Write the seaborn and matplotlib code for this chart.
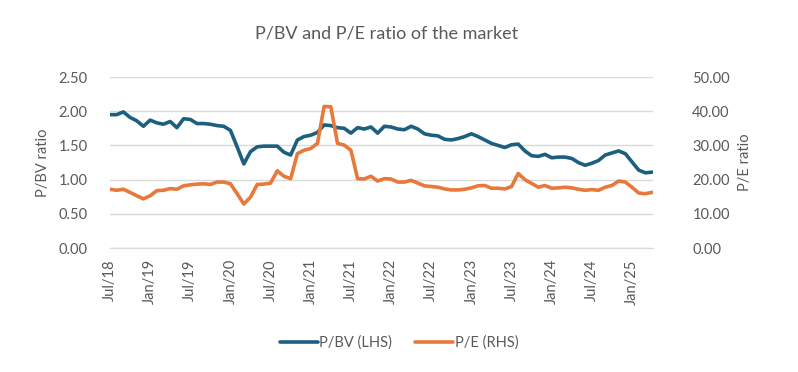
import pandas as pd
import matplotlib.pyplot as plt
import seaborn as sns

# monthly, Jul 2018 - Apr 2025
months = pd.date_range("2018-07-01", periods=82, freq="MS")

pbv = [1.95, 1.95, 1.99, 1.91, 1.86, 1.78, 1.87, 1.83, 1.81, 1.85,
       1.76, 1.89, 1.88, 1.82, 1.82, 1.81, 1.79, 1.78, 1.72, 1.48,
       1.23, 1.41, 1.48, 1.49, 1.49, 1.49, 1.40, 1.36, 1.58, 1.63,
       1.65, 1.69, 1.80, 1.79, 1.76, 1.75, 1.68, 1.76, 1.74, 1.77,
       1.68, 1.78, 1.77, 1.74, 1.73, 1.78, 1.74, 1.67, 1.65, 1.64,
       1.59, 1.58, 1.60, 1.63, 1.67, 1.63, 1.58, 1.53, 1.50, 1.47,
       1.51, 1.52, 1.42, 1.35, 1.34, 1.37, 1.32, 1.33, 1.33, 1.31,
       1.25, 1.21, 1.24, 1.28, 1.36, 1.39, 1.42, 1.38, 1.26, 1.14,
       1.10, 1.11]

pe = [17.2, 16.9, 17.2, 16.3, 15.3, 14.4, 15.3, 16.8, 16.9, 17.4,
      17.2, 18.2, 18.5, 18.7, 18.8, 18.6, 19.3, 19.3, 18.8, 15.9,
      12.9, 14.9, 18.6, 18.7, 19.0, 22.6, 21.0, 20.3, 27.6, 28.6,
      29.1, 30.6, 41.4, 41.3, 30.6, 30.1, 28.6, 20.3, 20.2, 21.0,
      19.6, 20.3, 20.2, 19.3, 19.3, 19.8, 19.0, 18.2, 18.0, 17.8,
      17.3, 17.0, 17.0, 17.2, 17.6, 18.2, 18.3, 17.5, 17.5, 17.3,
      18.0, 21.8, 20.0, 18.9, 17.8, 18.3, 17.5, 17.6, 17.8, 17.6,
      17.2, 16.9, 17.1, 16.9, 17.8, 18.3, 19.6, 19.3, 17.8, 16.1,
      15.9, 16.3]

df = pd.DataFrame({"idx": range(len(months)), "pbv": pbv, "pe": pe})
tick_pos = list(range(0, len(months), 6))
tick_labels = [months[i].strftime("%b/%y") for i in tick_pos]

sns.set_style("white")
plt.rcParams["font.family"] = ["Lato", "DejaVu Sans"]
grey = "#595959"
blue = "#1c5f7f"
orange = "#e8793a"

fig = plt.figure(figsize=(7.98, 3.72), dpi=100)
ax = fig.add_axes([0.1378, 0.333, 0.681, 0.46])
ax2 = ax.twinx()

sns.lineplot(data=df, x="idx", y="pbv", ax=ax, color=blue, linewidth=2.6, label="P/BV (LHS)", legend=False)
sns.lineplot(data=df, x="idx", y="pe", ax=ax2, color=orange, linewidth=2.6, label="P/E (RHS)", legend=False)

ax.set_xlim(0, 81.2)
ax.set_ylim(0, 2.5)
ax2.set_ylim(0, 50)
ax.set_yticks([0, 0.5, 1.0, 1.5, 2.0, 2.5])
ax.set_yticklabels([f"{v:.2f}" for v in ax.get_yticks()])
ax2.set_yticks([0, 10, 20, 30, 40, 50])
ax2.set_yticklabels([f"{v:.2f}" for v in ax2.get_yticks()])
ax.yaxis.grid(True, color="#d9d9d9", linewidth=1)
ax.set_axisbelow(True)

ax.set_xticks(tick_pos)
ax.set_xticklabels(tick_labels, rotation=90)

for a in (ax, ax2):
    for s in ("top", "left", "right"):
        a.spines[s].set_visible(False)
    a.spines["bottom"].set_color("#d9d9d9")
    a.tick_params(axis="y", length=0, colors=grey, labelsize=10.5)
ax.tick_params(axis="y", pad=16)
ax2.tick_params(axis="y", pad=28)
ax.tick_params(axis="x", length=5, color="#d9d9d9", colors=grey, labelsize=10.5, pad=3)
ax.tick_params(axis="x", which="both", color="#d9d9d9")

ax.set_xlabel("")
ax.set_ylabel("P/BV ratio", color=grey, fontsize=10.5, labelpad=6)
ax2.set_ylabel("P/E ratio", color=grey, fontsize=10.5, labelpad=6, rotation=90)

fig.text(0.485, 0.91, "P/BV and P/E ratio of the market", ha="center", va="center", color=grey, fontsize=13)

h1, l1 = ax.get_legend_handles_labels()
h2, l2 = ax2.get_legend_handles_labels()
fig.legend(h1 + h2, l1 + l2, loc="center", bbox_to_anchor=(0.5, 0.078), ncol=2, frameon=False,
           fontsize=10.5, labelcolor=grey, handlelength=2.6, handletextpad=0.1, columnspacing=1.6)

fig.savefig("out.png", dpi=100)
